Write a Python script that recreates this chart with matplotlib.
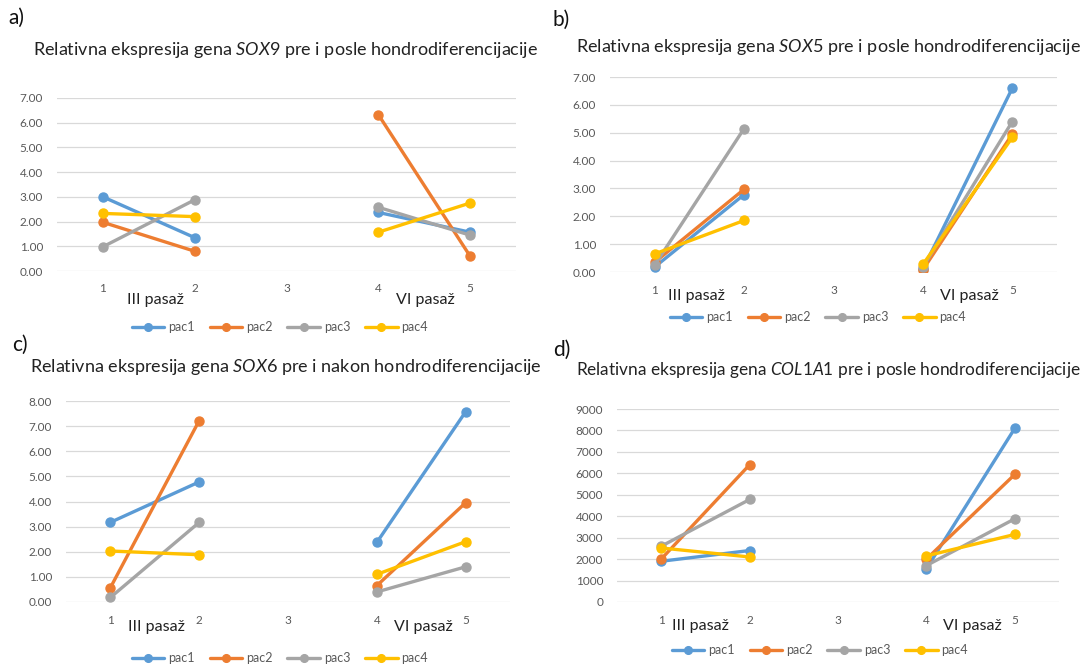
import numpy as np
import matplotlib
matplotlib.use("Agg")
import matplotlib.pyplot as plt

plt.rcParams['font.family'] = ['Lato', 'DejaVu Sans']
plt.rcParams['mathtext.fontset'] = 'custom'
plt.rcParams['mathtext.rm'] = 'Lato'
plt.rcParams['mathtext.it'] = 'Lato:italic'

nan = np.nan
positions = [1, 2, 3, 4, 5]
series_names = ['pac1', 'pac2', 'pac3', 'pac4']
colors = ['#5B9BD5', '#ED7D31', '#A5A5A5', '#FFC000']

# a) SOX9
sox9_pac1 = [3.00, 1.35, nan, 2.37, 1.57]
sox9_pac2 = [1.97, 0.80, nan, 6.33, 0.60]
sox9_pac3 = [0.98, 2.88, nan, 2.58, 1.45]
sox9_pac4 = [2.33, 2.20, nan, 1.57, 2.75]

# b) SOX5
sox5_pac1 = [0.18, 2.78, nan, 0.10, 6.60]
sox5_pac2 = [0.35, 2.97, nan, 0.08, 4.95]
sox5_pac3 = [0.25, 5.15, nan, 0.18, 5.40]
sox5_pac4 = [0.65, 1.85, nan, 0.27, 4.83]

# c) SOX6
sox6_pac1 = [3.17, 4.78, nan, 2.37, 7.57]
sox6_pac2 = [0.57, 7.22, nan, 0.65, 3.95]
sox6_pac3 = [0.18, 3.17, nan, 0.40, 1.40]
sox6_pac4 = [2.03, 1.88, nan, 1.10, 2.40]

# d) COL1A1
col_pac1 = [1900, 2400, nan, 1550, 8100]
col_pac2 = [2000, 6400, nan, 2000, 5950]
col_pac3 = [2600, 4780, nan, 1700, 3880]
col_pac4 = [2520, 2100, nan, 2150, 3150]

W, H = 1085, 665
fig = plt.figure(figsize=(W / 100, H / 100), dpi=100)
fig.patch.set_facecolor('white')


def px_axes(x0, x1, ytop, ybot):
    return fig.add_axes([x0 / W, 1 - ybot / H, (x1 - x0) / W, (ybot - ytop) / H])


def draw_panel(ax, data, ymax, ystep, fmt, gene, word, letter, lab, title_xy, title_fs,
               pasaz_x, pasaz_off, leg_xy):
    for vals, name, c in zip(data, series_names, colors):
        ax.plot(positions, vals, color=c, lw=2.4, marker='o', ms=6.5, label=name,
                solid_capstyle='round')
    ax.set_xlim(0.5, 5.5)
    ax.set_ylim(0, ymax)
    ticks = np.arange(0, ymax + ystep / 2, ystep)
    ax.set_yticks(ticks)
    ax.set_yticklabels([fmt.format(t) for t in ticks], color='#595959', fontsize=8.5)
    ax.set_xticks(positions)
    ax.set_xticklabels([str(p) for p in positions], color='#595959', fontsize=8.5)
    ax.tick_params(length=0, pad=9)
    ax.tick_params(axis='y', pad=10)
    ax.grid(axis='y', color='#D9D9D9', lw=0.9)
    ax.set_axisbelow(True)
    for s in ax.spines.values():
        s.set_visible(False)
    for x, t in zip(pasaz_x, ['III pasaž', 'VI pasaž']):
        ax.annotate(t, xy=(x, 0), xycoords=('data', 'axes fraction'),
                    xytext=(0, -pasaz_off), textcoords='offset pixels',
                    ha='center', va='center', fontsize=11.5, color='#222222')
    fig.text(title_xy[0] / W, 1 - title_xy[1] / H,
             'Relativna ekspresija gena $\\it{' + gene + '}$ pre i ' + word + ' hondrodiferencijacije',
             ha='left', va='center', fontsize=title_fs, color='#222222')
    fig.text(lab[0] / W, 1 - lab[1] / H, letter, ha='left', va='center',
             fontsize=15, color='#111111')
    leg = fig.legend(ax.get_lines(), series_names, loc='center',
                     bbox_to_anchor=(leg_xy[0] / W, 1 - leg_xy[1] / H),
                     ncol=4, frameon=False, fontsize=9, handlelength=2.6,
                     columnspacing=1.2, handletextpad=0.3, markerscale=0.85)
    for t in leg.get_texts():
        t.set_color('#595959')


ax_a = px_axes(57, 516, 98, 271)
draw_panel(ax_a, [sox9_pac1, sox9_pac2, sox9_pac3, sox9_pac4], 7, 1, '{:.2f}',
           'SOX9', 'posle', 'a)', (8, 18), (33, 50), 13, (1.57, 4.51), 29, (280, 327))

ax_b = px_axes(610, 1057, 77, 272)
draw_panel(ax_b, [sox5_pac1, sox5_pac2, sox5_pac3, sox5_pac4], 7, 1, '{:.2f}',
           'SOX5', 'posle', 'b)', (552, 20), (576, 47), 13, (1.47, 4.52), 24, (818, 317))

ax_c = px_axes(66, 510, 401, 602)
draw_panel(ax_c, [sox6_pac1, sox6_pac2, sox6_pac3, sox6_pac4], 8, 1, '{:.2f}',
           'SOX6', 'nakon', 'c)', (12, 345), (30, 367), 13, (1.52, 4.52), 25, (280, 658))

ax_d = px_axes(617, 1059, 409, 602)
draw_panel(ax_d, [col_pac1, col_pac2, col_pac3, col_pac4], 9000, 1000, '{:.0f}',
           'COL1A1', 'posle', 'd)', (553, 350), (576, 370), 12.4, (1.44, 4.52), 24, (820, 650))

fig.savefig('out.png', dpi=100, facecolor='white')
